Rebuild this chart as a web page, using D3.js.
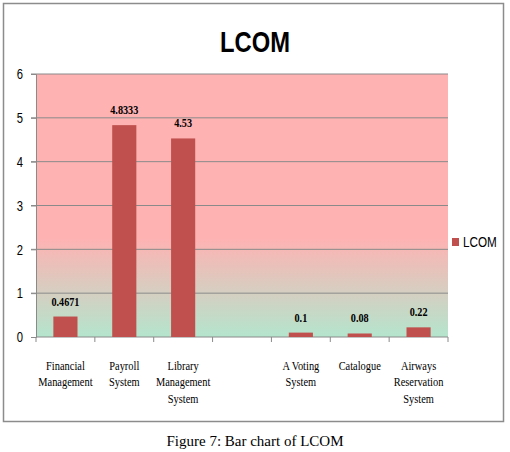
<!DOCTYPE html>
<html>
<head>
<meta charset="utf-8">
<script src="https://cdn.jsdelivr.net/npm/d3@7"></script>
<style>
  body { margin: 0; background: #fff; }
  svg { display: block; }
</style>
</head>
<body>
<svg width="510" height="452"></svg>
<script>
// chart data
var categories = ['Financial Management', 'Payroll System', 'Library Management System', '',
  'A Voting System', 'Catalogue', 'Airways Reservation System'];
var categoryLines = [['Financial', 'Management'], ['Payroll', 'System'], ['Library', 'Management', 'System'], [],
  ['A Voting', 'System'], ['Catalogue'], ['Airways', 'Reservation', 'System']];
var lcomValues = [0.4671, 4.8333, 4.53, null, 0.1, 0.08, 0.22];
var valueLabels = ['0.4671', '4.8333', '4.53', '', '0.1', '0.08', '0.22'];
var yTicks = [0, 1, 2, 3, 4, 5, 6];

var svg = d3.select('svg');
var margin = { left: 36, top: 74, right: 448, bottom: 337 };
var sans = '"Liberation Sans", Arial, sans-serif';
var serif = '"Liberation Serif", "Times New Roman", serif';

// outer frame
svg.append('rect')
  .attr('x', 3.5).attr('y', 3.5)
  .attr('width', 500).attr('height', 418)
  .attr('fill', '#fff').attr('stroke', '#8c8c8c').attr('stroke-width', 1.5);

var x = d3.scaleBand()
  .domain(d3.range(categories.length))
  .range([margin.left, margin.right])
  .paddingInner(0.59).paddingOuter(0.295);

var y = d3.scaleLinear().domain([0, 6]).range([margin.bottom, margin.top]);

// background gradient of the plot area
var defs = svg.append('defs');
var grad = defs.append('linearGradient')
  .attr('id', 'bg').attr('x1', 0).attr('y1', 0).attr('x2', 0).attr('y2', 1);
grad.append('stop').attr('offset', '0%').attr('stop-color', '#ffb2b2');
grad.append('stop').attr('offset', '62%').attr('stop-color', '#ffb2b2');
grad.append('stop').attr('offset', '100%').attr('stop-color', '#b4e5cd');

svg.append('rect')
  .attr('x', margin.left).attr('y', margin.top)
  .attr('width', margin.right - margin.left)
  .attr('height', margin.bottom - margin.top)
  .attr('fill', 'url(#bg)');

// gridlines
svg.selectAll('line.grid')
  .data(yTicks.slice(1))
  .enter().append('line')
  .attr('class', 'grid')
  .attr('x1', margin.left - 5).attr('x2', margin.right)
  .attr('y1', function(d) { return y(d); })
  .attr('y2', function(d) { return y(d); })
  .attr('stroke', '#8a8a8a').attr('stroke-width', 1);

// y axis
var yAxis = svg.append('g')
  .attr('transform', 'translate(' + margin.left + ',0)')
  .call(d3.axisLeft(y).tickValues(yTicks).tickFormat(d3.format('d')).tickSize(5).tickPadding(0));
yAxis.select('.domain').attr('stroke', '#8a8a8a');
yAxis.selectAll('.tick line').attr('stroke', '#8a8a8a');
yAxis.selectAll('.tick text')
  .attr('x', null)
  .attr('transform', 'translate(-13,0) scale(0.75,1)')
  .attr('font-family', sans).attr('font-size', 15).attr('fill', '#000');

// x axis line and ticks between categories
var xAxisG = svg.append('g');
xAxisG.append('line')
  .attr('x1', margin.left).attr('x2', margin.right)
  .attr('y1', margin.bottom).attr('y2', margin.bottom)
  .attr('stroke', '#8a8a8a');
var step = x.step();
xAxisG.selectAll('line.tk')
  .data(d3.range(categories.length + 1))
  .enter().append('line')
  .attr('class', 'tk')
  .attr('x1', function(i) { return margin.left + i * step; })
  .attr('x2', function(i) { return margin.left + i * step; })
  .attr('y1', margin.bottom).attr('y2', margin.bottom + 5)
  .attr('stroke', '#8a8a8a');

var barData = lcomValues.map(function(v, i) { return { v: v, i: i }; })
  .filter(function(d) { return d.v !== null; });

// bars
svg.selectAll('rect.bar')
  .data(barData)
  .enter().append('rect')
  .attr('class', 'bar')
  .attr('x', function(d) { return x(d.i); })
  .attr('y', function(d) { return y(d.v); })
  .attr('width', x.bandwidth())
  .attr('height', function(d) { return y(0) - y(d.v); })
  .attr('fill', '#c0504d');

// value labels
svg.selectAll('text.val')
  .data(barData)
  .enter().append('text')
  .attr('class', 'val')
  .attr('transform', function(d) {
    return 'translate(' + (x(d.i) + x.bandwidth() / 2) + ',' + (y(d.v) - 11) + ') scale(0.85,1)';
  })
  .attr('text-anchor', 'middle')
  .attr('font-family', serif).attr('font-size', 12).attr('font-weight', 'bold')
  .text(function(d) { return valueLabels[d.i]; });

// category labels
categoryLines.forEach(function(lines, i) {
  var t = svg.append('text')
    .attr('transform', 'translate(' + (x(i) + x.bandwidth() / 2) + ',370) scale(0.8,1)')
    .attr('text-anchor', 'middle')
    .attr('font-family', serif).attr('font-size', 13);
  lines.forEach(function(line, k) {
    t.append('tspan')
      .attr('x', 0)
      .attr('dy', k === 0 ? 0 : 16.5)
      .text(line);
  });
});

// title
svg.append('text')
  .attr('transform', 'translate(255,52) scale(0.82,1)')
  .attr('text-anchor', 'middle')
  .attr('font-family', sans).attr('font-size', 29).attr('font-weight', 'bold')
  .text('LCOM');

// legend
svg.append('rect')
  .attr('x', 452).attr('y', 238).attr('width', 7).attr('height', 8)
  .attr('fill', '#c0504d');
svg.append('text')
  .attr('transform', 'translate(463,247) scale(0.78,1)')
  .attr('font-family', sans).attr('font-size', 15)
  .text('LCOM');

// caption
svg.append('text')
  .attr('x', 255).attr('y', 446)
  .attr('text-anchor', 'middle')
  .attr('font-family', serif).attr('font-size', 15)
  .text('Figure 7: Bar chart of LCOM');
</script>
</body>
</html>
